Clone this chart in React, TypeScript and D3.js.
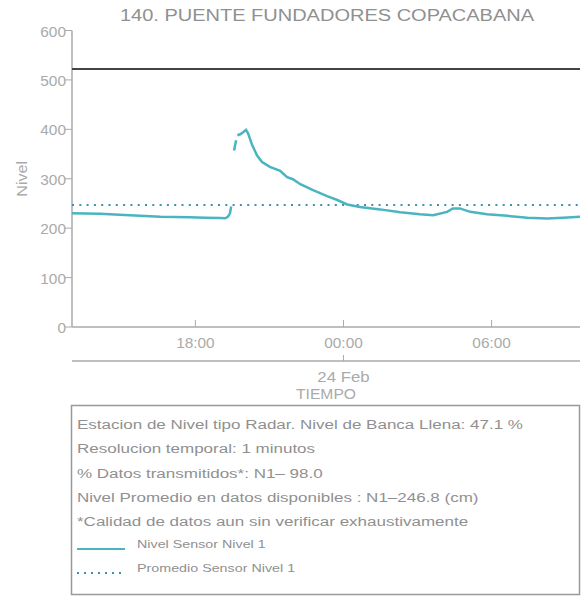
import * as d3 from "d3";
import {useEffect} from "react";

const title = "140. PUENTE FUNDADORES COPACABANA";

// sensor readings (time, cm); null = no data transmitted
const times: string[] = [
  "2024-02-23T13:00", "2024-02-23T14:08", "2024-02-23T15:20", "2024-02-23T16:35",
  "2024-02-23T17:45", "2024-02-23T18:25", "2024-02-23T19:00", "2024-02-23T19:12",
  "2024-02-23T19:19", "2024-02-23T19:24", "2024-02-23T19:27", "2024-02-23T19:30",
  "2024-02-23T19:34", "2024-02-23T19:39", "2024-02-23T19:40", "2024-02-23T19:42",
  "2024-02-23T19:49", "2024-02-23T19:56", "2024-02-23T20:03", "2024-02-23T20:08",
  "2024-02-23T20:18", "2024-02-23T20:30", "2024-02-23T20:42", "2024-02-23T21:01",
  "2024-02-23T21:26", "2024-02-23T21:43", "2024-02-23T21:57", "2024-02-23T22:15",
  "2024-02-23T22:46", "2024-02-23T23:20", "2024-02-23T23:45", "2024-02-24T00:09",
  "2024-02-24T00:40", "2024-02-24T01:29", "2024-02-24T02:18", "2024-02-24T03:06",
  "2024-02-24T03:38", "2024-02-24T04:12", "2024-02-24T04:26", "2024-02-24T04:43",
  "2024-02-24T05:08", "2024-02-24T05:49", "2024-02-24T06:38", "2024-02-24T07:27",
  "2024-02-24T08:15", "2024-02-24T08:54", "2024-02-24T09:35",
];
const nivel: (number | null)[] = [
  230, 229, 226, 223,
  222, 221, 220.5, 220,
  223, 230, 244, null,
  357, 378, null, 388,
  390, 394, 399, 392,
  368, 347, 334, 324,
  316, 303, 299, 289,
  277, 265, 257, 248,
  243, 238, 232, 228,
  226, 233, 240, 240,
  233, 228, 225, 221,
  219.5, 221, 223,
];

const promedio = 246.8;
const bancaLlena = 522;
const yTicks = [0, 100, 200, 300, 400, 500, 600];
const xTickHours = ["2024-02-23T18:00", "2024-02-24T00:00", "2024-02-24T06:00"];
const dayTick = "2024-02-24T00:00";

const infoLines = [
  "Estacion de Nivel tipo Radar. Nivel de Banca Llena: 47.1 %",
  "Resolucion temporal: 1 minutos",
  "% Datos transmitidos*: N1\u2013 98.0",
  "Nivel Promedio en datos disponibles : N1\u2013246.8 (cm)",
  "*Calidad de datos aun sin verificar exhaustivamente",
];
const legendItems = ["Nivel Sensor Nivel 1", "Promedio Sensor Nivel 1"];

const W = 581, H = 596;
const left = 72, right = 580, top = 30.5, bottom = 327;
const teal = "#4ab5c0";
const dotBlue = "#3f8fb3";
const axisGray = "#aaa";
const textGray = "#909090";
const font = "'Liberation Sans', Arial, sans-serif";

// the original text is drawn a bit wider than a normal sans, so stretch it horizontally
function T(props: {x: number, y: number, size: number, sx: number, anchor?: string, fill?: string, children: any}) {
  return (
    <text transform={`translate(${props.x},${props.y}) scale(${props.sx},1)`}
          textAnchor={props.anchor ?? "start"} fontSize={props.size} fill={props.fill ?? textGray}>
      {props.children}
    </text>
  );
}

export default function App() {
  useEffect(() => {
    document.body.style.margin = "0";
  }, []);

  const parse = d3.timeParse("%Y-%m-%dT%H:%M");
  const data = times.map((t, i) => ({t: parse(t)!, v: nivel[i]}));

  const x = d3.scaleTime()
    .domain([parse("2024-02-23T13:00")!, parse("2024-02-24T09:35")!])
    .range([left, right]);
  const y = d3.scaleLinear().domain([0, 600]).range([bottom, top]);

  const line = d3.line<{t: Date, v: number | null}>()
    .defined(d => d.v !== null)
    .x(d => x(d.t))
    .y(d => y(d.v as number));

  const fmt = d3.timeFormat("%H:%M");
  const axis2 = 361;
  const day = parse(dayTick)!;

  return (
    <svg width={W} height={H} style={{display: "block", fontFamily: font}}>
      <T x={327} y={21} size={16} sx={1.25} anchor="middle">{title}</T>

      {/* y axis */}
      <line x1={left} x2={left} y1={top} y2={bottom} stroke={axisGray} strokeWidth={1.5} />
      {yTicks.map(t => (
        <g key={t}>
          <line x1={left - 7} x2={left} y1={y(t)} y2={y(t)} stroke={axisGray} />
          <T x={left - 6} y={y(t) + 6} size={14} sx={1.1} anchor="end" fill={axisGray}>{t}</T>
        </g>
      ))}
      <text transform={`translate(27,${(top + bottom) / 2}) rotate(-90) scale(1.15,1)`} textAnchor="middle"
            fontSize={14} fill={axisGray}>Nivel</text>

      {/* x axis */}
      <line x1={left} x2={right} y1={bottom} y2={bottom} stroke={axisGray} strokeWidth={1.5} />
      {xTickHours.map(s => {
        const d = parse(s)!;
        return (
          <g key={s}>
            <line x1={x(d)} x2={x(d)} y1={bottom - 7} y2={bottom} stroke={axisGray} />
            <T x={x(d)} y={bottom + 21} size={14} sx={1.1} anchor="middle" fill={axisGray}>{fmt(d)}</T>
          </g>
        );
      })}
      <line x1={left} x2={right} y1={axis2} y2={axis2} stroke={axisGray} strokeWidth={1.5} />
      <line x1={x(day)} x2={x(day)} y1={axis2 - 6} y2={axis2} stroke={axisGray} />
      <T x={x(day)} y={axis2 + 21} size={14} sx={1.2} anchor="middle" fill={axisGray}>
        {d3.timeFormat("%-d %b")(day)}
      </T>
      <T x={(left + right) / 2} y={axis2 + 38} size={14} sx={1.12} anchor="middle" fill={axisGray}>TIEMPO</T>

      {/* reference lines */}
      <line x1={left} x2={right} y1={y(bancaLlena)} y2={y(bancaLlena)} stroke="#444" strokeWidth={2} />
      <line x1={left} x2={right} y1={y(promedio)} y2={y(promedio)} stroke={dotBlue}
            strokeWidth={2} strokeDasharray="2 5.3" />

      <path d={line(data) ?? ""} fill="none" stroke={teal} strokeWidth={2.5} />

      {/* info box */}
      <rect x={71.5} y={405.5} width={508} height={189} fill="white" stroke="#999" strokeWidth={1.5} />
      {infoLines.map((s, i) => (
        <T key={s} x={77} y={429 + i * 24.3} size={13.5} sx={1.26}>{s}</T>
      ))}
      <line x1={77} x2={125} y1={549} y2={549} stroke={teal} strokeWidth={2} />
      <T x={137} y={548} size={11} sx={1.3}>{legendItems[0]}</T>
      <line x1={77} x2={125} y1={573} y2={573} stroke={dotBlue} strokeWidth={2} strokeDasharray="2 5" />
      <T x={137} y={572} size={11} sx={1.3}>{legendItems[1]}</T>
    </svg>
  );
}
